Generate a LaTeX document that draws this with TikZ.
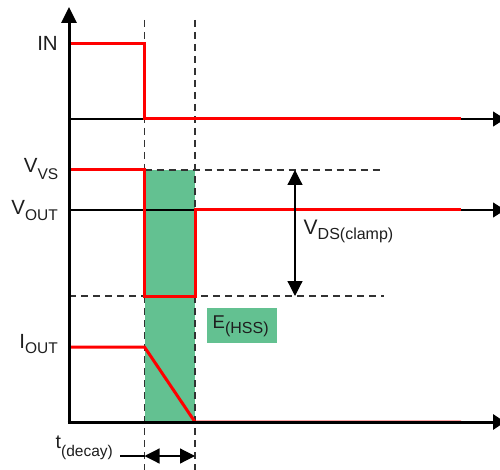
\documentclass[tikz,border=0pt]{standalone}
\usepackage{fontspec}
\setmainfont{Liberation Sans}
\usetikzlibrary{arrows.meta}
\definecolor{sig}{RGB}{255,0,0}
\definecolor{clampgreen}{RGB}{99,193,145}
\definecolor{dashgray}{RGB}{50,50,50}
\definecolor{txt}{RGB}{30,30,30}
% \lowsub{drop}{size}{text}
\newcommand{\lowsub}[3]{\raisebox{-#1}{\fontsize{#2}{#2}\selectfont #3}}
\begin{document}
\begin{tikzpicture}[x=1pt,y=-1pt,
  lbl/.style={inner sep=0pt, font=\fontsize{20.5}{21}\selectfont, text=txt},
  mainaxis/.style={line width=3pt},
  thinline/.style={line width=1.2pt},
  arrowend/.style={-{Triangle[length=12pt,width=15pt]}},
  guide/.style={line width=1.2pt, dashgray, dash pattern=on 7pt off 5pt},
  wave/.style={line width=3pt, sig, line join=miter},
  dimarrow/.style={line width=1.2pt, {Triangle[length=15pt,width=15pt]}-{Triangle[length=15pt,width=15pt]}}]
\useasboundingbox (0,0) rectangle (500,470);
% coordinates
\coordinate (o) at (69,422);
\coordinate (ytop) at (69,7);
\coordinate (xend) at (505,422);
\coordinate (inl) at (69,119);
\coordinate (inr) at (505,119);
\coordinate (vl) at (69,210);
\coordinate (vr) at (505,210);
\coordinate (d1t) at (144.5,20);
\coordinate (d1b) at (144.5,470);
\coordinate (d2t) at (195,20);
\coordinate (d2b) at (195,470);
\coordinate (h1l) at (144.5,170);
\coordinate (h1r) at (384,170);
\coordinate (h2l) at (69,296);
\coordinate (h2r) at (384,296);
\coordinate (at) at (295,170);
\coordinate (ab) at (295,296);
\coordinate (tl) at (144.5,456);
\coordinate (tr) at (195,456);
\coordinate (tstart) at (120,456);
% green area
\fill[clampgreen] (144.5,170) rectangle (195,422);
% guides
\draw[guide] (d1t) -- (d1b);
\draw[guide] (d2t) -- (d2b);
\draw[guide] (h1l) -- (h1r);
\draw[guide] (h2l) -- (h2r);
% thin axes
\draw[thinline, arrowend] (inl) -- (inr);
\draw[thinline, arrowend] (vl) -- (vr);
% waveforms
\draw[wave] (69,44) -- (144.5,44) -- (144.5,119) -- (461,119);
\draw[wave] (69,170) -- (144.5,170) -- (144.5,296) -- (195,296) -- (195,210) -- (461,210);
\draw[wave] (69,347) -- (144.5,347) -- (195,422) -- (461,422);
% main axes
\draw[mainaxis, -{Triangle[length=16pt,width=15pt]}] (o) -- (ytop);
\draw[mainaxis, arrowend] (67.5,422) -- (xend);
% dimension arrows
\draw[dimarrow] (at) -- (ab);
\draw[dimarrow] (tl) -- (tr);
\draw[thinline] (tstart) -- (tl);
% labels
\node[lbl, anchor=base east] (in) at (58,51) {IN};
\node[lbl, anchor=base east] (vvs) at (58.5,173) {V\lowsub{6.5pt}{15.5}{VS}};
\node[lbl, anchor=base east] (vout) at (58,214.5) {V\lowsub{6.5pt}{15.5}{OUT}};
\node[lbl, anchor=base east] (iout) at (58,348) {I\lowsub{5.5pt}{15.5}{OUT}};
\node[lbl, anchor=base west, font=\fontsize{21}{22}\selectfont] (vds) at (303.5,235) {V\lowsub{4.5pt}{16}{DS(clamp)}};
\node[lbl, anchor=base east, font=\fontsize{19.5}{20}\selectfont] (tdec) at (113,448) {t\lowsub{8pt}{15.5}{(decay)}};
\node[fill=clampgreen, minimum width=70pt, minimum height=35pt, inner sep=0pt] (ehss) at (242,325.5) {};
\node[lbl, anchor=base west, font=\fontsize{18.5}{19}\selectfont] (etext) at (212.5,328) {E\lowsub{5pt}{16}{(HSS)}};
\end{tikzpicture}
\end{document}
